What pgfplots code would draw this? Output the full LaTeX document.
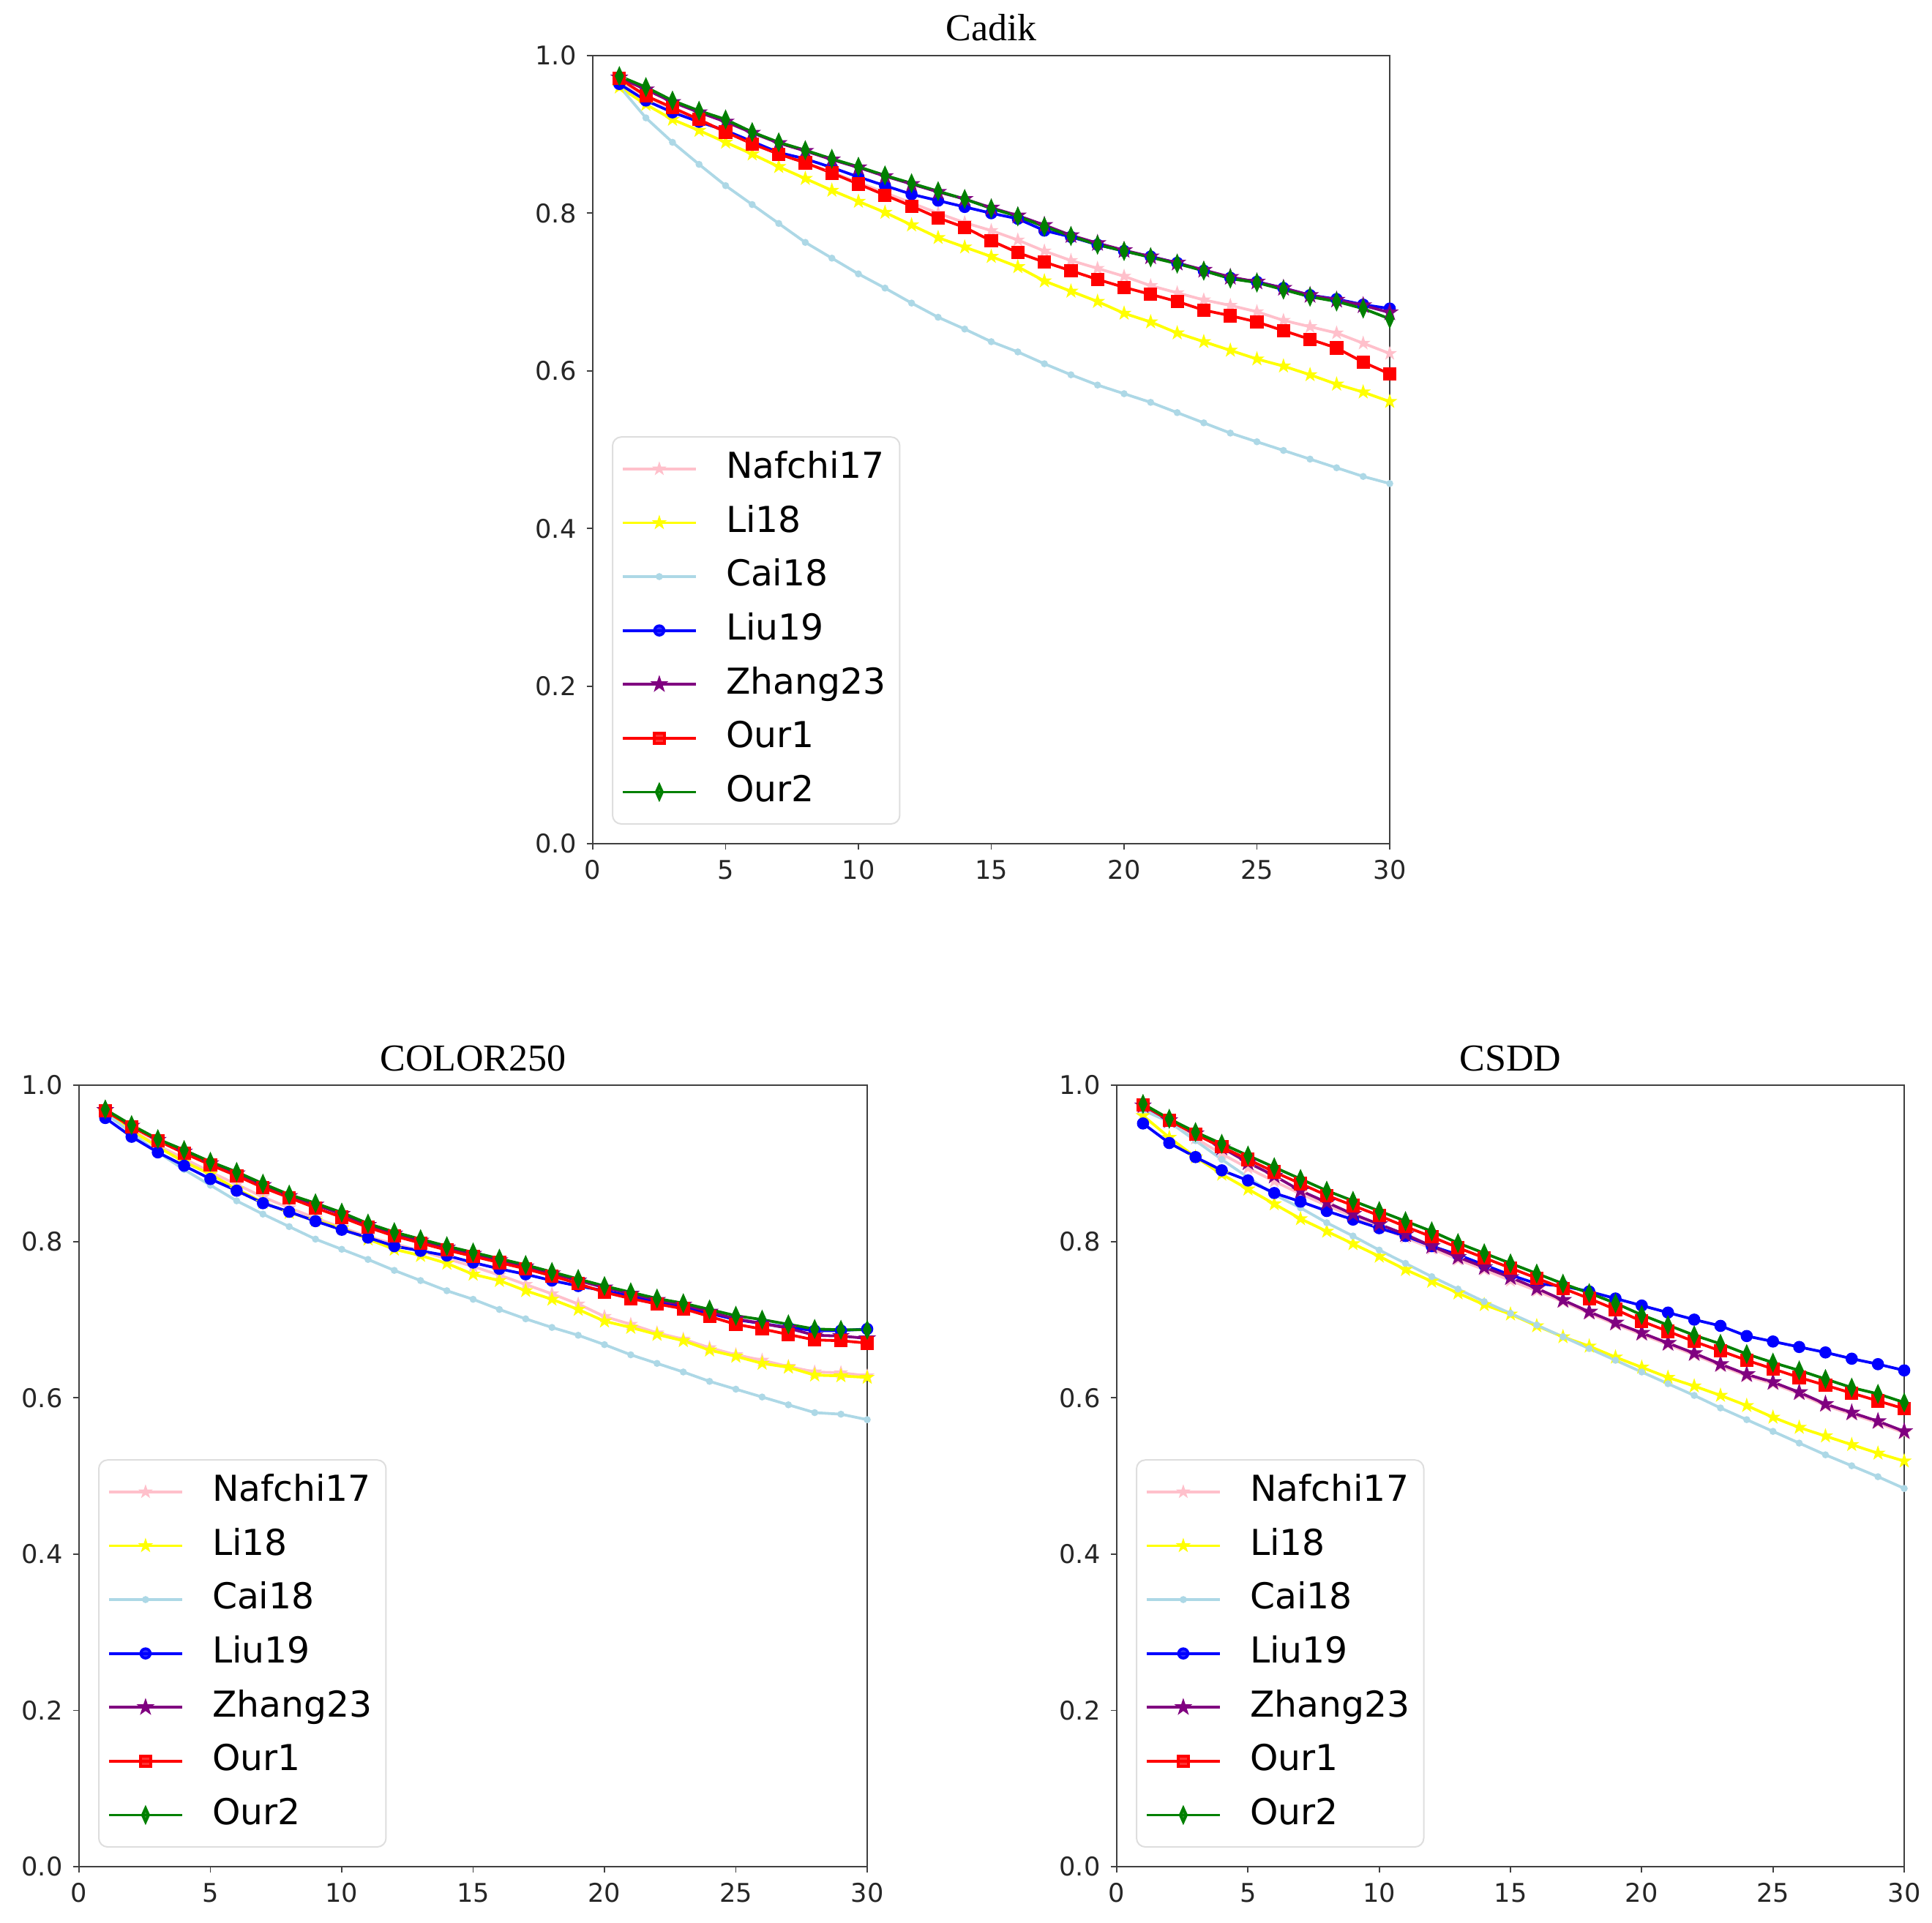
\documentclass[border=0pt]{standalone}
\usepackage{fontspec}
\setmainfont{DejaVu Sans}
\newfontfamily\timesfont{Liberation Serif}
\usepackage{pgfplots}
\pgfplotsset{compat=1.18}
\usepackage{pgfplotstable}
\usetikzlibrary{plotmarks}

\definecolor{cpink}{RGB}{255,192,203}
\definecolor{cyellow}{RGB}{255,255,0}
\definecolor{clblue}{RGB}{173,216,230}
\definecolor{cblue}{RGB}{0,0,255}
\definecolor{cpurple}{RGB}{128,0,128}
\definecolor{cred}{RGB}{255,0,0}
\definecolor{cgreen}{RGB}{0,128,0}

\pgfdeclareplotmark{fstar}{%
  \pgfpathmoveto{\pgfpointpolar{90}{\pgfplotmarksize}}%
  \pgfpathlineto{\pgfpointpolar{126}{0.382\pgfplotmarksize}}%
  \pgfpathlineto{\pgfpointpolar{162}{\pgfplotmarksize}}%
  \pgfpathlineto{\pgfpointpolar{198}{0.382\pgfplotmarksize}}%
  \pgfpathlineto{\pgfpointpolar{234}{\pgfplotmarksize}}%
  \pgfpathlineto{\pgfpointpolar{270}{0.382\pgfplotmarksize}}%
  \pgfpathlineto{\pgfpointpolar{306}{\pgfplotmarksize}}%
  \pgfpathlineto{\pgfpointpolar{342}{0.382\pgfplotmarksize}}%
  \pgfpathlineto{\pgfpointpolar{18}{\pgfplotmarksize}}%
  \pgfpathlineto{\pgfpointpolar{54}{0.382\pgfplotmarksize}}%
  \pgfpathclose
  \pgfusepathqfillstroke
}

\pgfplotstableread{
x nafchi li cai liu zhang our1 our2
1 0.968 0.960 0.961 0.964 0.972 0.971 0.974
2 0.948 0.938 0.921 0.943 0.957 0.949 0.960
3 0.932 0.919 0.890 0.928 0.941 0.934 0.943
4 0.918 0.905 0.862 0.916 0.928 0.919 0.930
5 0.903 0.890 0.835 0.905 0.916 0.903 0.919
6 0.889 0.875 0.811 0.891 0.902 0.888 0.903
7 0.876 0.859 0.787 0.877 0.889 0.875 0.890
8 0.864 0.844 0.763 0.869 0.879 0.864 0.880
9 0.852 0.829 0.743 0.858 0.868 0.851 0.869
10 0.839 0.815 0.723 0.846 0.858 0.837 0.859
11 0.826 0.801 0.705 0.835 0.847 0.823 0.848
12 0.813 0.785 0.686 0.824 0.837 0.809 0.838
13 0.800 0.769 0.668 0.816 0.827 0.794 0.828
14 0.788 0.757 0.653 0.808 0.818 0.782 0.818
15 0.778 0.745 0.637 0.800 0.807 0.765 0.806
16 0.766 0.732 0.624 0.793 0.797 0.750 0.796
17 0.752 0.714 0.609 0.778 0.785 0.738 0.783
18 0.740 0.701 0.595 0.770 0.772 0.727 0.771
19 0.730 0.688 0.582 0.760 0.762 0.716 0.760
20 0.720 0.673 0.571 0.752 0.753 0.706 0.752
21 0.708 0.662 0.560 0.745 0.745 0.697 0.744
22 0.699 0.648 0.547 0.737 0.737 0.688 0.736
23 0.690 0.637 0.534 0.727 0.728 0.677 0.727
24 0.683 0.626 0.521 0.718 0.719 0.670 0.717
25 0.675 0.615 0.510 0.713 0.713 0.662 0.712
26 0.664 0.606 0.499 0.705 0.705 0.651 0.703
27 0.656 0.595 0.488 0.696 0.696 0.640 0.694
28 0.648 0.583 0.477 0.691 0.690 0.629 0.688
29 0.635 0.573 0.466 0.684 0.683 0.611 0.679
30 0.622 0.561 0.457 0.679 0.674 0.596 0.666
}\cadik

\pgfplotstableread{
x nafchi li cai liu zhang our1 our2
1 0.965 0.966 0.964 0.958 0.968 0.967 0.969
2 0.943 0.942 0.939 0.934 0.948 0.947 0.949
3 0.923 0.921 0.914 0.914 0.930 0.929 0.931
4 0.906 0.902 0.892 0.897 0.915 0.913 0.917
5 0.889 0.886 0.872 0.880 0.900 0.898 0.902
6 0.873 0.867 0.852 0.865 0.887 0.884 0.889
7 0.857 0.850 0.835 0.849 0.872 0.869 0.874
8 0.843 0.837 0.819 0.838 0.858 0.856 0.860
9 0.830 0.827 0.803 0.826 0.847 0.843 0.849
10 0.818 0.817 0.790 0.815 0.835 0.831 0.837
11 0.806 0.803 0.777 0.805 0.821 0.818 0.823
12 0.797 0.790 0.763 0.794 0.810 0.807 0.812
13 0.788 0.782 0.750 0.788 0.801 0.798 0.803
14 0.778 0.772 0.737 0.782 0.792 0.789 0.794
15 0.768 0.758 0.726 0.773 0.784 0.781 0.786
16 0.757 0.750 0.713 0.765 0.776 0.773 0.778
17 0.745 0.737 0.701 0.758 0.768 0.765 0.770
18 0.733 0.726 0.690 0.750 0.759 0.756 0.761
19 0.720 0.713 0.680 0.743 0.750 0.746 0.752
20 0.704 0.698 0.668 0.737 0.741 0.735 0.743
21 0.694 0.690 0.655 0.730 0.733 0.727 0.735
22 0.683 0.681 0.644 0.723 0.725 0.720 0.727
23 0.675 0.673 0.633 0.716 0.719 0.714 0.721
24 0.664 0.661 0.621 0.708 0.710 0.704 0.713
25 0.655 0.653 0.611 0.700 0.701 0.694 0.705
26 0.648 0.644 0.601 0.695 0.695 0.688 0.700
27 0.640 0.639 0.591 0.690 0.689 0.681 0.694
28 0.633 0.629 0.581 0.686 0.680 0.674 0.688
29 0.632 0.628 0.579 0.686 0.679 0.673 0.687
30 0.628 0.626 0.572 0.688 0.676 0.670 0.687
}\colortab

\pgfplotstableread{
x nafchi li cai liu zhang our1 our2
1 0.972 0.961 0.968 0.951 0.974 0.975 0.976
2 0.953 0.933 0.953 0.926 0.955 0.955 0.957
3 0.932 0.908 0.929 0.908 0.938 0.937 0.940
4 0.912 0.886 0.905 0.891 0.920 0.921 0.925
5 0.894 0.867 0.882 0.878 0.901 0.905 0.910
6 0.877 0.848 0.860 0.862 0.884 0.889 0.895
7 0.861 0.829 0.843 0.851 0.865 0.874 0.880
8 0.846 0.813 0.824 0.839 0.850 0.859 0.865
9 0.832 0.797 0.807 0.828 0.835 0.846 0.852
10 0.818 0.781 0.789 0.817 0.822 0.833 0.839
11 0.805 0.764 0.772 0.807 0.809 0.819 0.826
12 0.791 0.749 0.755 0.794 0.794 0.806 0.813
13 0.777 0.734 0.739 0.783 0.780 0.792 0.798
14 0.764 0.719 0.723 0.770 0.767 0.779 0.785
15 0.750 0.707 0.708 0.757 0.754 0.766 0.772
16 0.737 0.692 0.693 0.746 0.740 0.753 0.759
17 0.723 0.678 0.678 0.743 0.725 0.740 0.746
18 0.708 0.666 0.663 0.736 0.710 0.727 0.734
19 0.694 0.652 0.648 0.727 0.696 0.713 0.721
20 0.681 0.639 0.633 0.718 0.683 0.698 0.706
21 0.668 0.626 0.618 0.709 0.670 0.685 0.693
22 0.655 0.615 0.603 0.700 0.657 0.672 0.680
23 0.641 0.603 0.587 0.692 0.643 0.660 0.669
24 0.628 0.590 0.572 0.679 0.630 0.648 0.656
25 0.618 0.575 0.557 0.672 0.620 0.637 0.645
26 0.605 0.562 0.542 0.665 0.607 0.626 0.635
27 0.590 0.551 0.527 0.658 0.592 0.616 0.624
28 0.579 0.540 0.513 0.650 0.581 0.606 0.613
29 0.568 0.529 0.499 0.643 0.570 0.596 0.605
30 0.555 0.519 0.484 0.635 0.557 0.586 0.594
}\csdd

\pgfplotsset{
  panel/.style={
    scale only axis,
    xmin=0, xmax=30, ymin=0, ymax=1,
    xtick={0,5,...,30}, ytick={0,0.2,0.4,0.6,0.8,1.0},
    yticklabel style={/pgf/number format/.cd, fixed, fixed zerofill, precision=1},
    /pgf/number format/assume math mode=true,
    tick label style={font=\fontsize{8.8}{10}\selectfont, text=black!85},
    tick align=outside, xtick pos=left, ytick pos=left,
    major tick length=2.1pt,
    tick style={black!75, line width=0.45pt},
    axis line style={black!75, line width=0.45pt},
    title style={font=\timesfont\fontsize{13}{15}\selectfont, at={(0.5,1)}, anchor=base, yshift=-1pt},
    every axis plot/.append style={line width=0.95pt},
    legend cell align=left,
    legend image code/.code={\draw[mark repeat=2,mark phase=2,##1] plot coordinates {(0pt,0pt)(12.5pt,0pt)(25pt,0pt)};},
    legend style={
      at={(0,0)}, anchor=south west, xshift=6.5pt, yshift=6.5pt,
      draw=black!13, line width=0.5pt, rounded corners=3pt,
      fill=white, fill opacity=0.8, text opacity=1,
      font=\fontsize{12.2}{14}\selectfont,
      nodes={text height=9.3pt, text depth=2.9pt, inner sep=1.8pt},
      inner xsep=3pt, inner ysep=3pt, row sep=2.6pt,
      /tikz/every odd column/.append style={column sep=8pt},
    },
  },
  snafchi/.style={cpink, mark=fstar, mark size=1.1pt},
  sli/.style={cyellow, mark=fstar, mark size=1.2pt},
  scai/.style={clblue, mark=*, mark size=0.7pt},
  sliu/.style={cblue, mark=*, mark size=1.6pt},
  szhang/.style={cpurple, mark=fstar, mark size=1.7pt},
  sour1/.style={cred, mark=square*, mark size=1.8pt},
  sour2/.style={cgreen, mark=diamond*, mark size=2.3pt, mark options={xscale=0.6}},
}

\newcommand\allplots[1]{%
  \addplot[snafchi] table[x=x,y=nafchi]{#1};
  \addplot[sli] table[x=x,y=li]{#1};
  \addplot[scai] table[x=x,y=cai]{#1};
  \addplot[sliu] table[x=x,y=liu]{#1};
  \addplot[szhang] table[x=x,y=zhang]{#1};
  \addplot[sour1] table[x=x,y=our1]{#1};
  \addplot[sour2] table[x=x,y=our2]{#1};
  \legend{Nafchi17,Li18,Cai18,Liu19,Zhang23,Our1,Our2}
}

\begin{document}
\begin{tikzpicture}
\path[use as bounding box] (0,0) rectangle (660pt,656.75pt);

\begin{axis}[panel, at={(202.5pt,368.5pt)}, anchor=south west,
  width=272.25pt, height=269.25pt, title={Cadik}]
\allplots{\cadik}
\end{axis}

\begin{axis}[panel, at={(27pt,19pt)}, anchor=south west,
  width=269.25pt, height=267pt, title={COLOR250}]
\allplots{\colortab}
\end{axis}

\begin{axis}[panel, at={(381.5pt,19pt)}, anchor=south west,
  width=269pt, height=267pt, title={CSDD}]
\allplots{\csdd}
\end{axis}
\end{tikzpicture}
\end{document}
